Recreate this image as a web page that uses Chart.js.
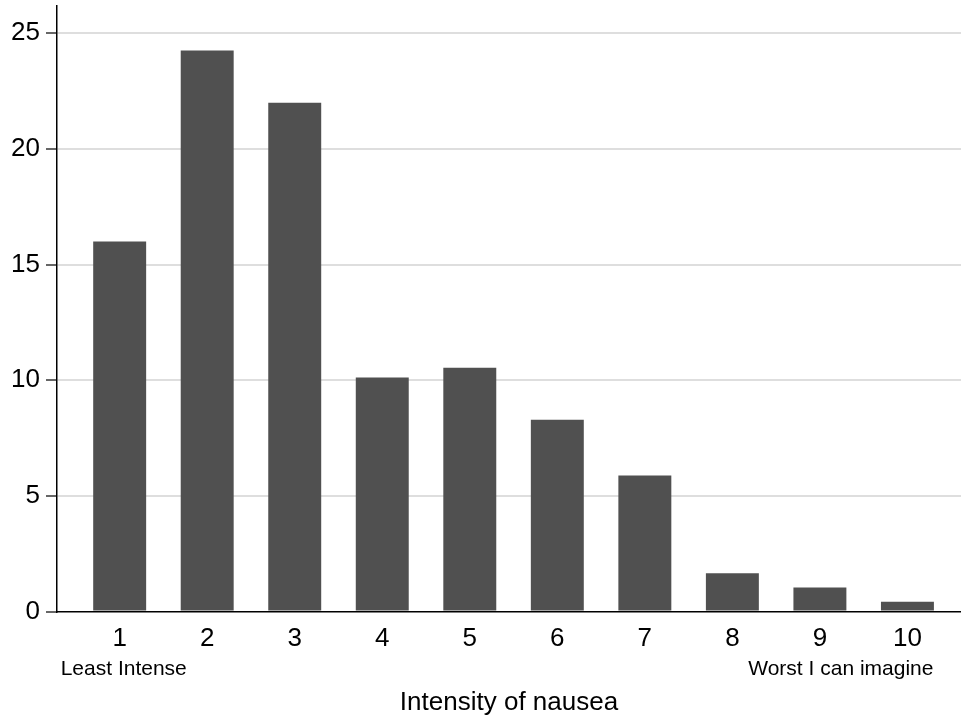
<!DOCTYPE html>
<html>
<head>
<meta charset="utf-8">
<script src="https://cdn.jsdelivr.net/npm/chart.js@4.4.1/dist/chart.umd.min.js"></script>
<style>
  html, body { margin: 0; padding: 0; background: #fff; }
  #wrap { width: 961px; height: 718px; }
</style>
</head>
<body>
<div id="wrap"><canvas id="nauseaChart" width="961" height="718"></canvas></div>
<script>
// intensity categories and percentage of responses
const intensity = [1, 2, 3, 4, 5, 6, 7, 8, 9, 10];
const percent = [16.0, 24.26, 22.0, 10.12, 10.54, 8.29, 5.88, 1.66, 1.04, 0.43];
const yTicks = [0, 5, 10, 15, 20, 25];
const lowLabel = 'Least Intense';
const highLabel = 'Worst I can imagine';
const xTitle = 'Intensity of nausea';

const fontFamily = '"Liberation Sans", Arial, Helvetica, sans-serif';

// draws the end-point descriptions under ticks 1 and 10
const endLabels = {
    id: 'endLabels',
    afterDraw(chart) {
        const ctx = chart.ctx;
        const x = chart.scales.x;
        const y = 669;
        ctx.save();
        ctx.font = '21px ' + fontFamily;
        ctx.fillStyle = '#000';
        ctx.textBaseline = 'middle';
        ctx.textAlign = 'left';
        ctx.fillText(lowLabel, x.getPixelForValue(intensity[0]) - 59, y);
        ctx.textAlign = 'right';
        ctx.fillText(highLabel, x.getPixelForValue(intensity[intensity.length - 1]) + 26, y);
        ctx.restore();
    }
};

const ctx = document.getElementById('nauseaChart').getContext('2d');
new Chart(ctx, {
    type: 'bar',
    data: {
        datasets: [{
            data: intensity.map((v, i) => ({ x: v, y: percent[i] })),
            backgroundColor: '#505050',
            borderWidth: 0,
            barPercentage: 0.605,
            categoryPercentage: 1
        }]
    },
    options: {
        responsive: false,
        animation: false,
        layout: { padding: { top: 6, right: 0, bottom: 0, left: 0 } },
        plugins: {
            legend: { display: false },
            tooltip: { enabled: false }
        },
        scales: {
            x: {
                type: 'linear',
                min: 0.284,
                max: 10.612,
                offset: false,
                afterBuildTicks: (scale) => {
                    scale.ticks = intensity.map(v => ({ value: v }));
                },
                grid: { display: false, drawTicks: false },
                border: { display: true, color: '#000', width: 1.5 },
                ticks: {
                    color: '#000',
                    font: { family: fontFamily, size: 26 },
                    padding: 12,
                    maxRotation: 0,
                    autoSkip: false
                },
                title: {
                    display: true,
                    text: xTitle,
                    color: '#000',
                    font: { family: fontFamily, size: 26 },
                    padding: { top: 20, bottom: 0 }
                }
            },
            y: {
                min: 0,
                max: 26.18,
                afterBuildTicks: (scale) => {
                    scale.ticks = yTicks.map(v => ({ value: v }));
                },
                afterFit: (scale) => {
                    scale.width = 57;
                    scale.paddingTop = 0;
                    scale.paddingBottom = 0;
                },
                grid: {
                    color: (c) => (c.tick && c.tick.value === 0) ? 'rgba(0,0,0,0)' : '#dedede',
                    lineWidth: 2,
                    drawTicks: true,
                    tickLength: 11,
                    tickColor: '#000',
                    tickWidth: 1.2
                },
                border: { display: true, color: '#000', width: 1.5 },
                ticks: {
                    color: '#000',
                    font: { family: fontFamily, size: 26 },
                    padding: 6
                }
            }
        }
    },
    plugins: [endLabels]
});
</script>
</body>
</html>
